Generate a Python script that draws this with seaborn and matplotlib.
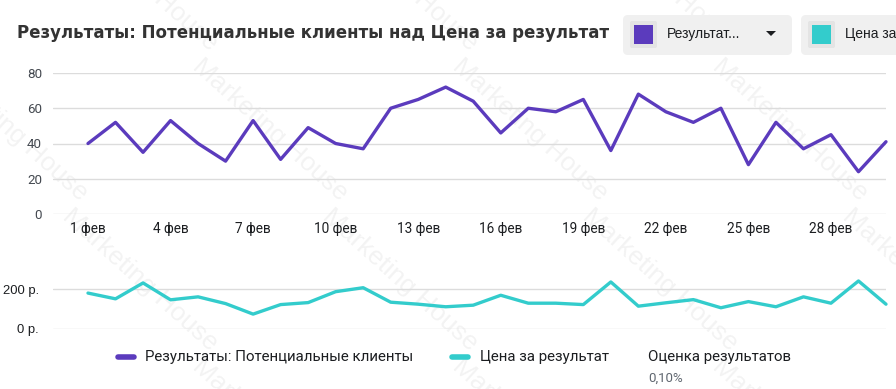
import pandas as pd
import seaborn as sns
import matplotlib.pyplot as plt
from matplotlib.patches import FancyBboxPatch, Rectangle, Polygon

# Data (1 Feb - 1 Mar)
dates = [f'{d} фев' for d in range(1, 30)] + ['1 мар']
leads = [40, 52, 35, 53, 40, 30, 53, 31, 49, 40, 37, 60, 65, 72, 64,
         46, 60, 58, 65, 36, 68, 58, 52, 60, 28, 52, 37, 45, 24, 41]
cost = [181, 152, 232, 147, 162, 128, 75, 123, 133, 188, 208, 135, 125, 112, 120,
        170, 130, 130, 123, 237, 115, 132, 148, 107, 138, 112, 162, 130, 242, 125]
y_ticks_top = [0, 20, 40, 60, 80]
y_ticks_bottom = [0, 200]
y_labels_bottom = ['0 р.', '200 р.']

title = 'Результаты: Потенциальные клиенты над Цена за результат'
name_leads = 'Результаты: Потенциальные клиенты'
name_cost = 'Цена за результат'

purple = '#5b3bbd'
teal = '#33cccc'

df = pd.DataFrame({'day': range(len(dates)), 'date': dates, 'leads': leads, 'cost': cost})

sns.set_style('white')
plt.rcParams['font.family'] = ['Roboto', 'DejaVu Sans']

W, H = 896, 389
fig = plt.figure(figsize=(W / 100, H / 100), dpi=100)


def px_axes(x0, y0, x1, y1):
    # axes from pixel box (top-left origin)
    return fig.add_axes([x0 / W, 1 - y1 / H, (x1 - x0) / W, (y1 - y0) / H])


# watermark
wm = fig.add_axes([0, 0, 1, 1], zorder=-5)
wm.set_axis_off()
for row, yy in enumerate(range(-20, 460, 150)):
    for xx in range(-120, 1000, 260):
        wm.text((xx + (row % 2) * 130) / W, 1 - yy / H, 'Marketing House', rotation=-42,
                fontsize=19, color='#000000', alpha=0.05, ha='center', va='center',
                family='Liberation Sans', transform=wm.transAxes)

x_left = -35 / 27.52

# top chart
ax1 = px_axes(53, 73, 886, 214)
sns.lineplot(data=df, x='day', y='leads', color=purple, linewidth=2.4, ax=ax1)
ax1.set_ylim(0, 80)
ax1.set_xlim(x_left, len(dates) - 1)
ax1.set_yticks(y_ticks_top)
ax1.set_xticks(df['day'][::3])
ax1.set_xticklabels(df['date'][::3], fontsize=9.8, color='#1c1e21')
ax1.tick_params(axis='y', labelsize=9.6, labelcolor='#444950', pad=8, length=0)
ax1.tick_params(axis='x', length=0, pad=6)
ax1.grid(axis='y', color='#dcdcdc', linewidth=1)
ax1.set_xlabel('')
ax1.set_ylabel('')
ax1.patch.set_alpha(0)
sns.despine(ax=ax1, left=True, bottom=True)
for l in ax1.lines:
    l.set_clip_on(False)

# bottom chart
ax2 = px_axes(53, 329 - 250 * 0.1985, 886, 329)
sns.lineplot(data=df, x='day', y='cost', color=teal, linewidth=2.4, ax=ax2)
ax2.set_ylim(0, 250)
ax2.set_xlim(x_left, len(dates) - 1)
ax2.set_yticks(y_ticks_bottom)
ax2.set_yticklabels(y_labels_bottom, family=['Liberation Sans'], fontsize=9.4, color='#1c1e21')
ax2.set_xticks([])
ax2.tick_params(axis='y', length=0, pad=10)
ax2.grid(axis='y', color='#dcdcdc', linewidth=1)
ax2.set_xlabel('')
ax2.set_ylabel('')
ax2.patch.set_alpha(0)
sns.despine(ax=ax2, left=True, bottom=True)
for l in ax2.lines:
    l.set_clip_on(False)

# title and overlay elements in pixel coords
ov = fig.add_axes([0, 0, 1, 1], zorder=5)
ov.set_xlim(0, W)
ov.set_ylim(H, 0)
ov.set_axis_off()

ov.text(17, 33, title, fontsize=12.0, fontweight='bold', color='#333333',
        family='DejaVu Sans', va='center', ha='left')

# series buttons
for bx0, bx1, col, txt, arrow in [(623, 792, purple, 'Результат...', True),
                                  (801, 940, teal, 'Цена за результат', False)]:
    ov.add_patch(FancyBboxPatch((bx0 + 5, 20), bx1 - bx0 - 10, 30,
                                boxstyle='round,pad=5', fc='#f0f0f0', ec='none'))
    ov.add_patch(FancyBboxPatch((bx0 + 9, 23), 23, 23, boxstyle='round,pad=2',
                                fc='#e4e4e4', ec='none'))
    ov.add_patch(Rectangle((bx0 + 11, 25), 19, 19, fc=col, ec='none'))
    ov.text(bx0 + 44, 34, txt, fontsize=10, color='#1c1e21',
            family='Liberation Sans', va='center', ha='left', clip_on=True)
    if arrow:
        ov.add_patch(Polygon([(bx1 - 26, 31), (bx1 - 16, 31), (bx1 - 21, 36)],
                             closed=True, fc='#1c1e21', ec='none'))

# bottom legend
ov.plot([118, 134], [357, 357], color=purple, linewidth=4, solid_capstyle='round')
ov.text(145, 357, name_leads, fontsize=10.8, color='#1c1e21', va='center', ha='left')
ov.plot([452, 468], [357, 357], color=teal, linewidth=4, solid_capstyle='round')
ov.text(480, 357, name_cost, fontsize=10.8, color='#1c1e21', va='center', ha='left')
ov.text(648, 357, 'Оценка результатов', fontsize=10.8, color='#1c1e21', va='center', ha='left')
ov.text(648, 378, '0,10%', fontsize=9.5, color='#606770', va='center', ha='left')

fig.savefig('out.png', dpi=100)
